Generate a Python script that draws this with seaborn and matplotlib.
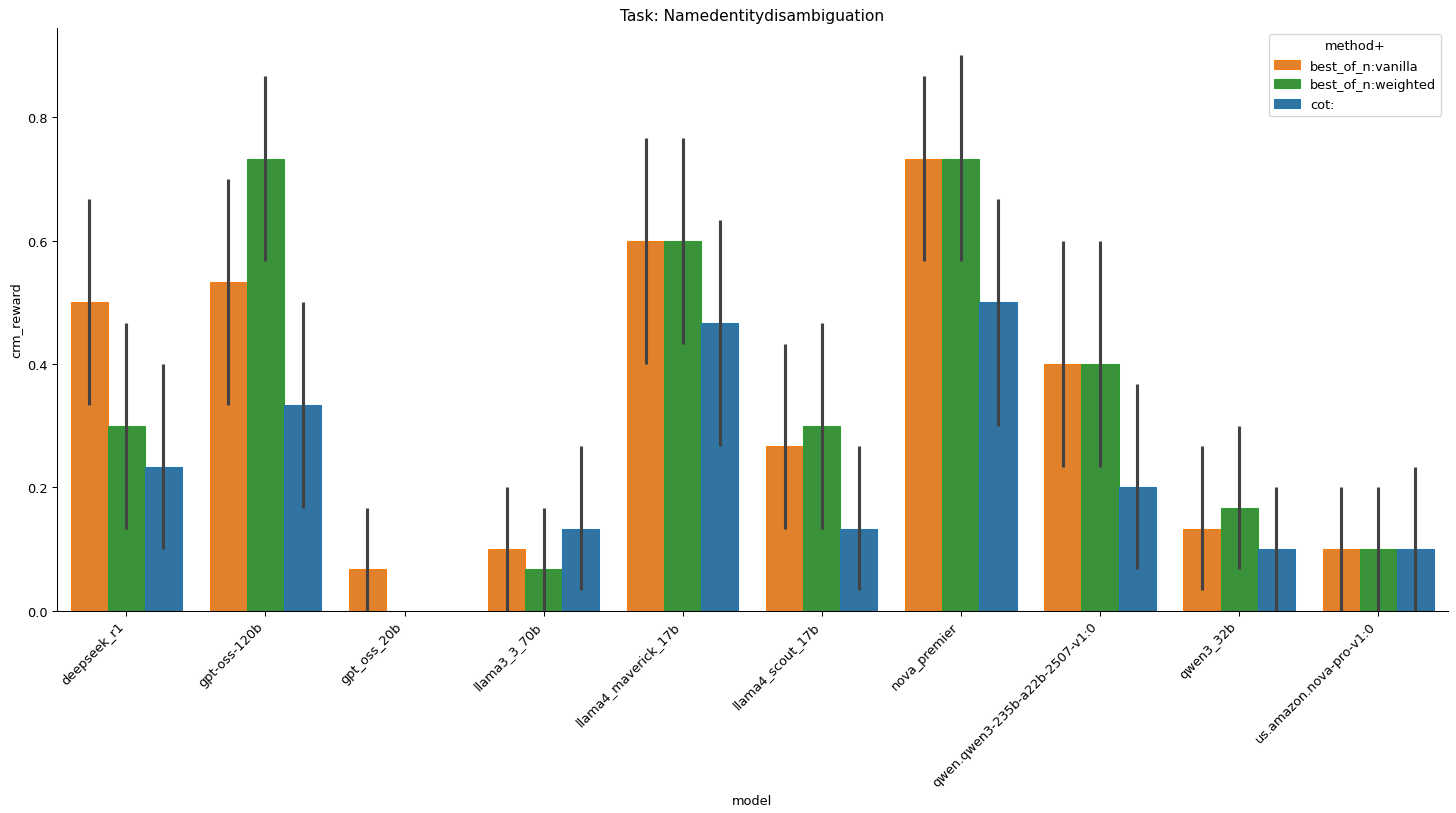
import matplotlib
matplotlib.use("Agg")
import matplotlib.pyplot as plt
import seaborn as sns
import pandas as pd
import numpy as np

# mean crm_reward and confidence interval per model / method
models = ["deepseek_r1", "gpt-oss-120b", "gpt_oss_20b", "llama3_3_70b",
          "llama4_maverick_17b", "llama4_scout_17b", "nova_premier",
          "qwen.qwen3-235b-a22b-2507-v1:0", "qwen3_32b", "us.amazon.nova-pro-v1:0"]
methods = ["best_of_n:vanilla", "best_of_n:weighted", "cot:"]

vanilla_mean = [0.500, 0.533, 0.067, 0.100, 0.600, 0.267, 0.733, 0.400, 0.133, 0.100]
vanilla_lo = [0.333, 0.333, 0.000, 0.000, 0.400, 0.133, 0.567, 0.233, 0.033, 0.000]
vanilla_hi = [0.667, 0.700, 0.167, 0.200, 0.767, 0.433, 0.867, 0.600, 0.267, 0.200]

weighted_mean = [0.300, 0.733, 0.000, 0.067, 0.600, 0.300, 0.733, 0.400, 0.167, 0.100]
weighted_lo = [0.133, 0.567, 0.000, 0.000, 0.433, 0.133, 0.567, 0.233, 0.067, 0.000]
weighted_hi = [0.467, 0.867, 0.000, 0.167, 0.767, 0.467, 0.900, 0.600, 0.300, 0.200]

cot_mean = [0.233, 0.333, 0.000, 0.133, 0.467, 0.133, 0.500, 0.200, 0.100, 0.100]
cot_lo = [0.100, 0.167, 0.000, 0.033, 0.267, 0.033, 0.300, 0.067, 0.000, 0.000]
cot_hi = [0.400, 0.500, 0.000, 0.267, 0.633, 0.267, 0.667, 0.367, 0.200, 0.233]

means = [vanilla_mean, weighted_mean, cot_mean]
lows = [vanilla_lo, weighted_lo, cot_lo]
highs = [vanilla_hi, weighted_hi, cot_hi]

rows = []
for m, mean in zip(methods, means):
    for model, v in zip(models, mean):
        rows.append({"model": model, "method+": m, "crm_reward": v})
df = pd.DataFrame(rows)

palette = {"best_of_n:vanilla": "tab:orange",
           "best_of_n:weighted": "tab:green",
           "cot:": "tab:blue"}

dpi = 93
fig, ax = plt.subplots(figsize=(1456 / dpi, 814 / dpi), dpi=dpi)
sns.barplot(data=df, x="model", y="crm_reward", hue="method+",
            hue_order=methods, order=models, palette=palette,
            errorbar=None, ax=ax)

# thin edge in the full colour, error bars at bar centres
for cont, m, lo, hi in zip(ax.containers, methods, lows, highs):
    for bar, l, h in zip(cont, lo, hi):
        bar.set_edgecolor(palette[m])
        bar.set_linewidth(0.8)
        if h <= l:
            continue
        xc = bar.get_x() + bar.get_width() / 2
        ax.plot([xc, xc], [l, h], color=".26", lw=2.4, solid_capstyle="butt", zorder=3)

ax.set_xlim(-0.5, len(models) - 0.5)
ax.set_ylim(0, 0.945)
ax.set_yticks([0.0, 0.2, 0.4, 0.6, 0.8])
ax.set_xticklabels(models, rotation=45, ha="right")
ax.set_title("Task: Namedentitydisambiguation")
sns.despine(ax=ax)
leg = ax.legend(title="method+", loc="upper right")
for hnd, m in zip(leg.legend_handles, methods):
    hnd.set_edgecolor(palette[m])
    hnd.set_linewidth(0.8)

fig.subplots_adjust(left=0.039, right=0.9943, top=0.9647, bottom=0.2485)
fig.savefig("out.png", dpi=dpi)
